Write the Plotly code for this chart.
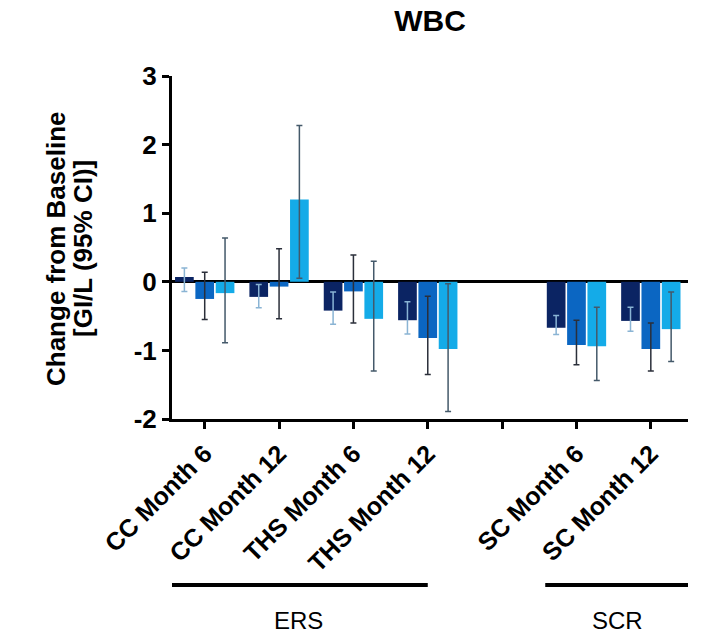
import plotly.graph_objects as go

categories = ["CC Month 6", "CC Month 12", "THS Month 6", "THS Month 12", "", "SC Month 6", "SC Month 12"]
positions = list(range(len(categories)))

s1_mean = [0.07, -0.22, -0.42, -0.56, None, -0.67, -0.57]
s1_upper = [0.20, -0.04, -0.15, -0.29, None, -0.49, -0.37]
s1_lower = [-0.14, -0.38, -0.62, -0.76, None, -0.77, -0.72]

s2_mean = [-0.25, -0.07, -0.14, -0.82, None, -0.92, -0.98]
s2_upper = [0.14, 0.48, 0.39, -0.21, None, -0.56, -0.60]
s2_lower = [-0.55, -0.54, -0.60, -1.35, None, -1.21, -1.30]

s3_mean = [-0.165, 1.20, -0.54, -0.98, None, -0.94, -0.69]
s3_upper = [0.64, 2.28, 0.30, -0.03, None, -0.37, -0.15]
s3_lower = [-0.89, 0.05, -1.30, -1.89, None, -1.44, -1.16]

y_ticks = [-2, -1, 0, 1, 2, 3]
y_title_lines = ["Change from Baseline", "[GI/L (95% CI)]"]

series = [
    ("Series 1", s1_mean, s1_upper, s1_lower, "#0b2463", "#8ab4d4"),
    ("Series 2", s2_mean, s2_upper, s2_lower, "#0b66c2", "#2b2f3a"),
    ("Series 3", s3_mean, s3_upper, s3_lower, "#14abe8", "#44596a"),
]

FONT = "Liberation Sans, Arial, sans-serif"
W, H = 702, 636
L, R, T, B = 172, 14, 76, 217

fig = go.Figure()
for name, mean, up, lo, color, ecolor in series:
    plus = [None if m is None else u - m for m, u in zip(mean, up)]
    minus = [None if m is None else m - l for m, l in zip(mean, lo)]
    fig.add_trace(go.Bar(
        x=positions, y=mean, name=name, marker=dict(color=color, line=dict(width=0)),
        error_y=dict(type="data", symmetric=False, array=plus, arrayminus=minus,
                     color=ecolor, thickness=1.5, width=3),
        showlegend=False,
    ))

fig.update_layout(
    barmode="group", bargap=0.18, bargroupgap=0.08,
    width=W, height=H,
    margin=dict(l=L, r=R, t=T, b=B, autoexpand=False),
    paper_bgcolor="white", plot_bgcolor="white",
    title=dict(text="WBC", x=0.5, xref="paper", xanchor="center",
               y=1 - 20 / H, yref="container", yanchor="middle",
               font=dict(family=FONT, size=30, color="black", weight="bold")),
    font=dict(family=FONT, color="black"),
)

fig.update_xaxes(
    range=[-0.44, 6.5], tickmode="array", tickvals=positions, ticktext=categories,
    tickangle=-45, tickfont=dict(family=FONT, size=25, color="black", weight="bold"),
    showline=True, linecolor="black", linewidth=3, ticks="outside", ticklen=7,
    tickwidth=3, tickcolor="black", showgrid=False, zeroline=False, automargin=False,
)
fig.update_yaxes(
    range=[-2, 3], tickmode="array", tickvals=y_ticks, ticktext=[str(v) for v in y_ticks],
    tickfont=dict(family=FONT, size=26, color="black", weight="bold"),
    showline=True, linecolor="black", linewidth=3, ticks="outside", ticklen=7,
    tickwidth=3, tickcolor="black", showgrid=False,
    zeroline=True, zerolinecolor="black", zerolinewidth=3, automargin=False,
)

ph = H - T - B
def paper_y(py):
    return (H - B - py) / ph

pw = W - L - R
for i, (line, px) in enumerate(zip(y_title_lines, [56, 83])):
    fig.add_annotation(text=line, xref="paper", yref="paper",
                       x=(px - L) / pw, y=paper_y(249), textangle=-90,
                       showarrow=False, xanchor="center", yanchor="middle",
                       font=dict(family=FONT, size=26, color="black", weight="bold"))

groups = [("ERS", -0.47, 3.0), ("SCR", 4.58, 6.53)]
for label, x0, x1 in groups:
    fig.add_shape(type="line", xref="x", yref="paper", x0=x0, x1=x1,
                  y0=paper_y(585), y1=paper_y(585), line=dict(color="black", width=4))
    fig.add_annotation(text=label, xref="x", yref="paper", x=(x0 + x1) / 2,
                       y=paper_y(620), showarrow=False, xanchor="center", yanchor="middle",
                       font=dict(family=FONT, size=24, color="black"))

fig.write_html("out.html", config={"displayModeBar": False},
               post_script="document.body.style.margin='0';document.body.style.padding='0';")
